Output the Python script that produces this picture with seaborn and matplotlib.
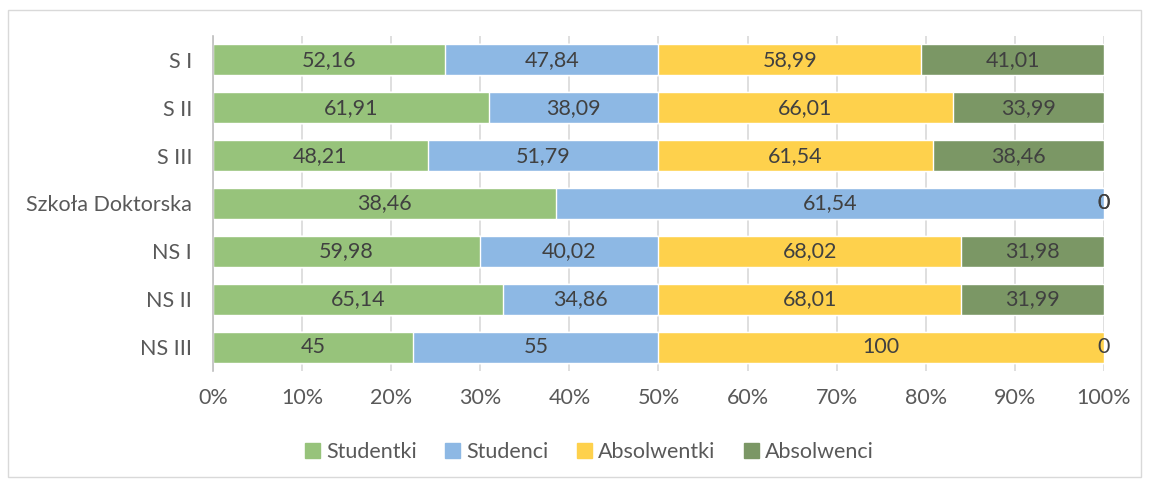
import numpy as np
import pandas as pd
import matplotlib
matplotlib.use("Agg")
import matplotlib.pyplot as plt
import matplotlib.patches as mpatches
import seaborn as sns

# ------------------------------
# Data (values as printed in the chart)
# ------------------------------
categories = ["S I", "S II", "S III", "Szkoła Doktorska", "NS I", "NS II", "NS III"]
studentki = [52.16, 61.91, 48.21, 38.46, 59.98, 65.14, 45]
studenci = [47.84, 38.09, 51.79, 61.54, 40.02, 34.86, 55]
absolwentki = [58.99, 66.01, 61.54, 0, 68.02, 68.01, 100]
absolwenci = [41.01, 33.99, 38.46, 0, 31.98, 31.99, 0]

series_names = ["Studentki", "Studenci", "Absolwentki", "Absolwenci"]
series_colors = ["#97C37B", "#8DB8E4", "#FED14C", "#7B9765"]

df = pd.DataFrame({"category": categories, "Studentki": studentki, "Studenci": studenci,
                   "Absolwentki": absolwentki, "Absolwenci": absolwenci})

# convert to 100% stacked shares
vals = df[series_names].to_numpy(dtype=float)
pct = vals / vals.sum(axis=1, keepdims=True) * 100
cum = np.cumsum(pct, axis=1)

sns.set_theme(style="white")
plt.rcParams["font.family"] = ["Lato", "DejaVu Sans"]
text_color = "#404040"
tick_color = "#595959"
fs = 15.5

fig = plt.figure(figsize=(11.49, 4.83), dpi=100)
ax = fig.add_axes([0.1854, 0.2319, 0.7754, 0.6936])

# draw cumulative bars from the right-most series back to the first
for i in range(len(series_names) - 1, -1, -1):
    sns.barplot(x=cum[:, i], y=df["category"], orient="h", color=series_colors[i],
                width=0.65, ax=ax, saturation=1, zorder=2)

# segment value labels
for r in range(len(categories)):
    for i in range(len(series_names)):
        left = cum[r, i] - pct[r, i]
        center = left + pct[r, i] / 2
        v = vals[r, i]
        label = f"{v:g}".replace(".", ",")
        ax.text(center, r, label, ha="center", va="center", fontsize=fs,
                color=text_color, zorder=3)

ax.set_xlim(0, 100)
ax.set_ylim(6.5, -0.5)
ax.set_xticks(np.arange(0, 101, 10))
ax.set_xticklabels([f"{t}%" for t in range(0, 101, 10)], fontsize=fs, color=tick_color)
ax.tick_params(axis="y", labelsize=fs, labelcolor=tick_color, length=0, pad=15)
ax.tick_params(axis="x", length=0, pad=12)
ax.set_xlabel("")
ax.set_ylabel("")
ax.xaxis.grid(True, color="#D9D9D9", linewidth=1.2, zorder=0)
ax.yaxis.grid(False)
for side in ["top", "right", "bottom"]:
    ax.spines[side].set_visible(False)
ax.spines["left"].set_color("#BFBFBF")
ax.spines["left"].set_linewidth(1.2)
ax.spines["left"].set_zorder(4)

handles = [mpatches.Patch(color=c, label=n) for n, c in zip(series_names, series_colors)]
fig.legend(handles=handles, loc="center", bbox_to_anchor=(0.513, 0.064), ncol=4,
           frameon=False, fontsize=fs, handlelength=0.7, handleheight=0.7,
           handletextpad=0.3, columnspacing=1.3, labelcolor=tick_color)

# thin chart frame
fig.patches.append(mpatches.Rectangle((0.007, 0.013), 0.986, 0.966, transform=fig.transFigure,
                                      fill=False, edgecolor="#D9D9D9", linewidth=1))

plt.savefig("out.png", dpi=100)
plt.close()
